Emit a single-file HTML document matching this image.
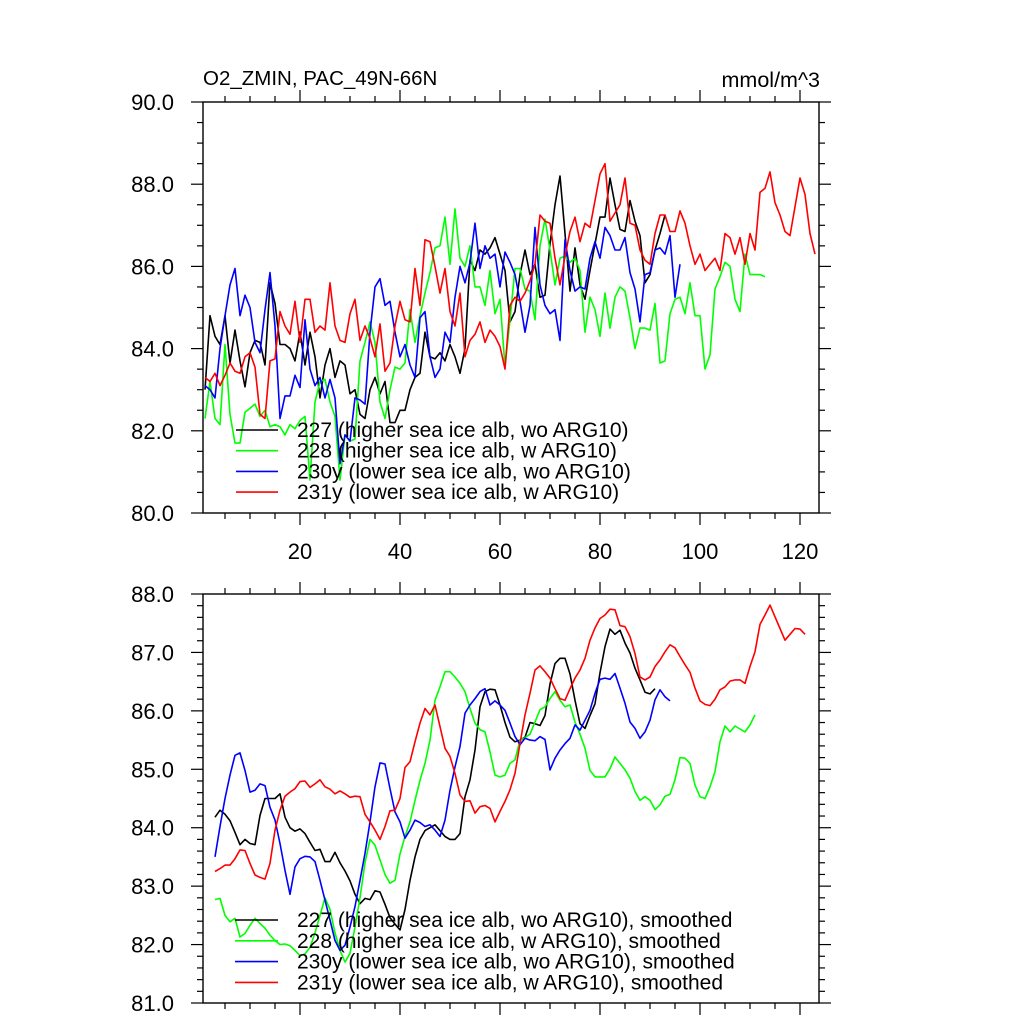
<!DOCTYPE html>
<html><head><meta charset="utf-8">
<style>
html,body{margin:0;padding:0;background:#fff;}
svg{display:block;font-family:"Liberation Sans",Arial,sans-serif;}
</style></head>
<body>
<svg id="chart" width="1024" height="1024" viewBox="0 0 1024 1024" xmlns="http://www.w3.org/2000/svg">
<text x="203" y="85" font-size="20.5">O2_ZMIN, PAC_49N-66N</text>
<text x="820" y="87" font-size="21.5" text-anchor="end">mmol/m^3</text>
</svg>
<script>
// ===== Top panel raw series (x = year index starting at 1) =====
const topBlack = [83.0,84.8,84.3,84.1,84.8,83.65,84.45,83.7,83.07,83.9,84.2,84.15,83.6,85.6,85.1,84.1,84.1,84.0,83.7,84.4,83.6,84.4,83.8,82.8,83.6,84.0,83.3,83.7,83.6,82.9,83.0,82.4,82.3,83.0,83.3,82.9,83.2,82.2,82.2,82.5,
82.5,83.0,83.3,83.4,84.4,83.8,83.75,83.9,83.7,84.1,83.8,83.4,84.0,
86.15,85.9,86.4,86.3,86.45,86.7,86.3,85.9,84.65,84.9,85.8,86.4,85.8,86.05,85.25,85.3,86.55,87.5,88.2,86.8,85.4,86.45,85.55,85.2,85.9,86.55,87.2,87.2,
88.15,87.5,86.9,86.85,87.6,87.1,86.75,85.6,85.8,86.4,86.8,87.25];
const topGreen = [82.3,83.2,82.3,82.15,84.1,82.4,81.7,81.7,82.45,82.55,82.65,82.35,82.5,82.1,82.15,82.1,81.9,82.15,82.05,82.25,82.35,80.8,82.7,83.2,83.25,82.7,82.35,80.8,81.9,81.75,81.8,83.7,84.15,84.65,84.15,82.7,82.3,83.0,83.55,83.5,83.65,
84.95,84.15,84.8,85.35,85.85,86.45,86.5,87.2,86.05,87.4,86.2,86.0,86.5,85.5,85.5,85.05,85.9,84.85,85.2,83.55,84.7,85.95,85.95,85.45,85.4,84.7,86.5,87.15,86.4,85.55,86.2,86.25,86.1,86.2,85.9,84.4,85.25,84.95,84.3,85.35,
84.5,85.25,85.5,85.4,84.75,84.0,84.5,84.5,84.45,85.1,83.65,83.7,84.85,85.2,85.25,84.85,85.6,84.8,84.8,83.5,83.85,85.45,85.75,86.1,86.0,85.2,84.9,86.3,85.8,85.8,85.8,85.75];
const topBlue = [83.1,83.0,82.8,84.0,84.8,85.55,85.95,84.8,85.3,85.0,84.15,83.9,84.95,85.85,84.55,82.3,82.85,82.85,83.35,83.05,84.7,83.5,83.1,83.3,82.8,83.25,82.8,81.2,81.9,81.75,82.8,82.75,82.65,84.4,85.5,85.7,85.05,85.15,84.4,83.8,84.1,
83.6,83.3,84.75,84.9,83.8,83.3,83.5,84.4,84.15,85.25,86.0,85.6,86.1,87.05,85.95,86.5,86.2,86.3,85.5,86.35,86.1,85.8,85.15,84.4,85.05,86.95,85.55,85.05,84.85,84.95,84.2,86.65,85.9,85.4,85.5,85.45,86.2,86.6,86.2,86.95,
86.75,86.4,86.4,86.7,85.85,85.45,84.65,85.8,85.85,86.4,86.45,86.3,86.75,85.25,86.05];
const topRed = [83.3,83.2,83.4,83.1,83.35,83.65,83.45,83.4,83.8,83.9,83.55,82.4,82.3,83.7,83.75,84.9,84.55,84.35,85.15,84.15,85.2,85.2,84.4,84.55,84.45,85.6,84.55,84.2,84.15,84.85,85.2,84.2,84.55,84.25,83.8,84.6,83.45,83.65,84.55,85.15,84.7,
84.65,85.95,85.05,86.65,86.6,86.0,85.35,85.95,84.9,84.55,85.35,83.8,84.2,84.35,84.65,84.15,84.45,84.3,84.05,83.5,85.05,85.25,85.15,85.35,85.65,86.05,87.25,87.1,87.05,86.2,85.55,86.25,86.85,87.2,86.6,87.05,86.95,87.6,88.25,88.5,
87.1,87.3,87.5,88.15,87.05,87.0,86.4,86.15,86.05,86.8,87.25,87.25,86.85,86.85,87.35,87.05,86.5,86.05,86.3,85.9,86.05,86.2,85.9,86.8,86.7,86.3,86.7,86.05,86.8,86.4,87.8,87.9,88.3,87.55,87.25,86.85,86.75,87.45,88.15,87.75,86.8,86.3];

// ===== Bottom panel smoothed series (start at x = 3) =====
const botBlack = [84.18,84.3,84.23,84.12,83.92,83.71,83.8,83.73,83.71,84.21,84.5,84.5,84.5,84.58,84.18,84.0,83.94,83.98,83.9,83.75,83.61,83.63,83.42,83.42,83.58,83.4,83.26,83.09,82.86,82.7,82.79,82.77,82.92,82.9,82.69,82.46,
82.35,82.25,
82.6,83.1,83.5,83.8,83.95,84.0,84.05,83.95,83.85,83.8,83.8,83.9,
84.53,84.82,85.33,86.07,86.33,86.37,86.36,86.1,85.8,85.55,85.47,85.5,85.55,85.8,85.78,85.75,85.92,86.46,86.81,86.9,86.9,86.63,86.18,85.78,85.7,85.92,86.12,
86.65,87.1,87.4,87.31,87.38,87.16,86.99,86.73,86.53,86.32,86.29,86.38];
const botGreen = [82.77,82.79,82.5,82.39,82.45,82.13,82.19,82.33,82.45,82.36,82.28,82.16,82.07,82.0,82.01,81.98,81.9,81.81,81.84,81.95,82.2,82.5,82.8,82.6,82.2,81.9,81.7,81.85,82.3,82.8,83.4,83.8,83.7,83.45,83.2,83.05,83.1,83.55,
83.85,84.1,84.47,84.81,85.1,85.5,86.18,86.41,86.67,86.67,86.58,86.47,86.33,86.04,85.79,85.68,85.64,85.3,84.9,84.87,84.9,85.1,85.16,85.5,85.54,85.6,85.81,86.02,86.07,86.21,86.33,86.18,86.07,86.1,85.81,85.6,85.36,84.98,84.87,84.87,84.87,
85.01,85.21,85.1,84.99,84.85,84.62,84.47,84.53,84.47,84.31,84.39,84.54,84.57,84.82,85.2,85.19,85.1,84.73,84.53,84.5,84.7,84.96,85.47,85.74,85.64,85.74,85.69,85.64,85.76,85.93];
const botBlue = [83.5,84.02,84.5,84.9,85.24,85.28,84.98,84.61,84.64,84.75,84.72,84.35,84.13,83.73,83.27,82.86,83.33,83.47,83.51,83.5,83.42,83.1,82.76,82.42,82.07,81.9,81.99,82.3,82.65,83.1,83.56,84.1,84.7,85.11,85.09,84.67,84.27,84.1,
83.82,83.96,84.13,84.09,84.02,84.05,83.96,83.85,84.13,84.64,85.04,85.39,85.96,86.1,86.21,86.33,86.38,86.1,86.17,86.1,86.01,85.79,85.56,85.42,85.53,85.5,85.49,85.56,85.51,84.99,85.19,85.33,85.44,85.53,85.76,85.67,85.84,86.01,86.3,86.54,86.56,
86.54,86.64,86.39,86.13,85.81,85.7,85.53,85.64,85.84,86.19,86.36,86.24,86.17];
const botRed = [83.25,83.3,83.36,83.36,83.47,83.62,83.61,83.39,83.19,83.15,83.12,83.39,83.96,84.3,84.54,84.61,84.67,84.79,84.8,84.69,84.75,84.82,84.7,84.66,84.58,84.63,84.58,84.52,84.54,84.53,84.23,84.1,83.96,83.8,84.02,84.29,84.3,84.5,
85.03,85.13,85.47,85.79,86.04,85.93,86.1,85.73,85.36,85.22,84.93,84.56,84.45,84.46,84.25,84.36,84.38,84.33,84.1,84.28,84.45,84.65,84.93,85.44,85.93,86.3,86.7,86.77,86.67,86.56,86.38,86.21,86.18,86.38,86.56,86.7,86.9,87.21,
87.42,87.58,87.64,87.74,87.73,87.46,87.44,87.27,86.98,86.58,86.53,86.58,86.76,86.87,87.01,87.13,87.08,86.93,86.79,86.66,86.39,86.17,86.11,86.09,86.2,86.36,86.41,86.51,86.53,86.53,86.47,86.76,87.01,87.48,87.64,87.81,87.61,87.41,87.21,87.31,87.41,87.4,87.31];

const topYTicks = ["80.0","82.0","84.0","86.0","88.0","90.0"];
const botYTicks = ["81.0","82.0","83.0","84.0","85.0","86.0","87.0","88.0"];
const xTickLabels = ["20","40","60","80","100","120"];
const topLegend = ["227 (higher sea ice alb, wo ARG10)","228 (higher sea ice alb, w ARG10)","230y (lower sea ice alb, wo ARG10)","231y (lower sea ice alb, w ARG10)"];
const botLegend = ["227 (higher sea ice alb, wo ARG10), smoothed","228 (higher sea ice alb, w ARG10), smoothed","230y (lower sea ice alb, wo ARG10), smoothed","231y (lower sea ice alb, w ARG10), smoothed"];

const NS = "http://www.w3.org/2000/svg";
const svg = document.getElementById("chart");
const COLORS = ["#000000","#00ff00","#0000ff","#ff0000"];
const X0 = 203, X1 = 819;
function xPix(x){ return 200 + 5*x; }

function mk(tag, attrs, parent){
  const e = document.createElementNS(NS, tag);
  for (const k in attrs) e.setAttribute(k, attrs[k]);
  (parent||svg).appendChild(e);
  return e;
}

function panel(cfg){
  const g = mk("g", {});
  
  
  const yPix = v => cfg.yTop + (cfg.ymax - v) * (cfg.yBot - cfg.yTop) / (cfg.ymax - cfg.ymin);
  cfg.series.forEach((s, i) => {
    const pts = s.map((v, j) => xPix(cfg.xStart + j).toFixed(1) + "," + yPix(v).toFixed(1)).join(" ");
    const pl = mk("polyline", {points: pts, fill: "none", stroke: COLORS[i], "stroke-width": 1.6, "stroke-linejoin": "round"}, g);
    
    
  });
  const fr = mk("rect", {x: X0, y: cfg.yTop, width: X1 - X0, height: cfg.yBot - cfg.yTop, fill: "none", stroke: "#000", "stroke-width": 1.4}, g);
  
  
  const ax = mk("g", {stroke: "#000", "stroke-width": 1.2}, g);
  
  
  for (let v = cfg.ymin; v <= cfg.ymax + 1e-6; v += cfg.minor) {
    const y = yPix(v);
    const isMaj = Math.abs((v - cfg.ymin) / cfg.major - Math.round((v - cfg.ymin) / cfg.major)) < 1e-6;
    const L = isMaj ? 12 : 6;
    mk("line", {x1: X0 - L, y1: y, x2: X0, y2: y}, ax);
    mk("line", {x1: X1, y1: y, x2: X1 + L, y2: y}, ax);
  }
  for (let x = 5; x <= 120; x += 5) {
    const px = xPix(x);
    const L = x % 20 === 0 ? 12 : 6;
    mk("line", {x1: px, y1: cfg.yTop - L, x2: px, y2: cfg.yTop}, ax);
    mk("line", {x1: px, y1: cfg.yBot, x2: px, y2: cfg.yBot + L}, ax);
  }
  cfg.yLabels.forEach(lbl => {
    const t = mk("text", {x: 174, y: yPix(parseFloat(lbl)) + 8, "font-size": 22, "text-anchor": "end"}, g);
    t.textContent = lbl;
    
    
  });
  if (cfg.xLabels) {
    cfg.xLabels.forEach(lbl => {
      const t = mk("text", {x: xPix(parseFloat(lbl)), y: cfg.yBot + 46, "font-size": 22, "text-anchor": "middle"}, g);
      t.textContent = lbl;
      
      
    });
  }
  cfg.legend.forEach((lbl, i) => {
    const y = cfg.legY + i * cfg.legDy;
    const le = mk("g", {}, g);
    
    
    mk("line", {x1: cfg.legX1, y1: y, x2: cfg.legX2, y2: y, stroke: COLORS[i], "stroke-width": 1.6}, le);
    const t = mk("text", {x: cfg.legTx, y: y + 7, "font-size": 21}, le);
    t.textContent = lbl;
  });
}

panel({name: "top-panel", yTop: 102, yBot: 513, ymin: 80, ymax: 90, major: 2, minor: 0.5,
  series: [topBlack, topGreen, topBlue, topRed], xStart: 1,
  seriesNames: ["line-227","line-228","line-230y","line-231y"],
  yLabels: topYTicks, xLabels: xTickLabels,
  legend: topLegend, legY: 430, legDy: 20.7, legX1: 236, legX2: 278, legTx: 297});

panel({name: "bottom-panel", yTop: 594, yBot: 1003, ymin: 81, ymax: 88, major: 1, minor: 0.2,
  series: [botBlack, botGreen, botBlue, botRed], xStart: 3,
  seriesNames: ["line-227-smoothed","line-228-smoothed","line-230y-smoothed","line-231y-smoothed"],
  yLabels: botYTicks, xLabels: null,
  legend: botLegend, legY: 920, legDy: 20.8, legX1: 235, legX2: 278, legTx: 297});
</script>
</body></html>
